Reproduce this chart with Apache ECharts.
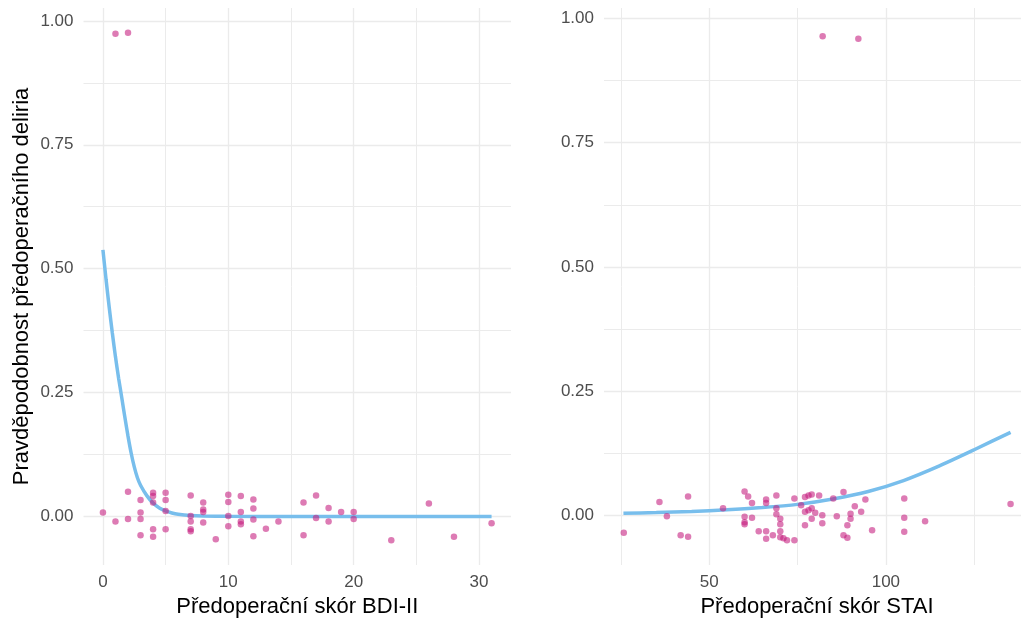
<!DOCTYPE html>
<html>
<head>
<meta charset="utf-8">
<script src="https://cdn.jsdelivr.net/npm/echarts@6/dist/echarts.min.js"></script>
<style>
  html, body { margin: 0; padding: 0; background: #fff; }
  #chart { width: 1021px; height: 622px; }
</style>
</head>
<body>
<div id="chart"></div>
<script>
// BDI-II panel: jittered observations (x = score, y = delirium 0/1 with jitter)
const bdiX = [0, 1, 2, 2, 3, 3, 3, 3, 4, 4, 4, 4, 4, 5, 5, 5, 5, 7, 7, 7, 7, 7,
  8, 8, 8, 8, 9, 10, 10, 10, 10, 11, 11, 11, 11, 12, 12, 12, 12, 13, 14, 16, 16,
  17, 17, 18, 18, 19, 20, 20, 23, 26, 28, 31, 1, 2];
const bdiY = [0.008, -0.010, 0.050, -0.005, 0.033, 0.008, -0.005, -0.038, 0.048,
  0.041, 0.028, -0.026, -0.041, 0.048, 0.033, 0.011, -0.026, 0.042, 0.001, -0.010,
  -0.026, -0.030, 0.028, 0.014, 0.009, -0.012, -0.046, 0.044, 0.029, 0.001, -0.020,
  0.041, 0.009, -0.010, -0.016, 0.034, 0.016, -0.006, -0.040, -0.025, -0.010, 0.028,
  -0.038, 0.042, -0.003, 0.017, -0.010, 0.009, 0.009, -0.005, -0.048, 0.026, -0.041,
  -0.014, 0.974, 0.976];
// fitted probability curve
const bdiCurveX = [0, 0.25, 0.5, 0.75, 1, 1.25, 1.5, 1.75, 2, 2.25, 2.5, 2.75, 3,
  3.5, 4, 4.5, 5, 5.5, 6, 7, 8, 10, 15, 20, 25, 31];
const bdiCurveY = [0.538, 0.478, 0.422, 0.37, 0.322, 0.279, 0.24, 0.2, 0.162,
  0.128, 0.1, 0.078, 0.063, 0.042, 0.027, 0.017, 0.011, 0.007, 0.0045, 0.002,
  0.001, 0.0003, 0, 0, 0, 0];

// STAI panel
const staiX = [25.8, 35.9, 38.0, 41.9, 44.0, 44.0, 53.9, 60.0, 61.0, 60.0, 60.0,
  60.0, 62.1, 62.1, 64.0, 66.1, 66.1, 66.1, 66.1, 68.0, 69.0, 69.0, 69.0, 70.1,
  70.1, 70.1, 70.1, 71.0, 72.0, 74.1, 74.1, 76.0, 77.1, 77.1, 77.1, 78.1, 78.1,
  79.0, 79.0, 79.0, 80.0, 81.1, 82.0, 82.0, 85.1, 86.1, 88.0, 88.0, 89.1, 89.1,
  90.0, 90.0, 91.2, 93.0, 94.2, 96.1, 105.2, 105.2, 105.2, 111.1, 135.3, 82.1, 92.2];
const staiY = [-0.035, 0.027, -0.002, -0.040, 0.038, -0.043, 0.014, 0.048, 0.038,
  -0.003, -0.014, -0.018, 0.025, -0.005, -0.032, 0.032, 0.025, -0.032, -0.047,
  -0.040, 0.040, 0.014, 0.002, -0.007, -0.018, -0.032, -0.044, -0.046, -0.050,
  0.034, -0.050, 0.020, 0.037, 0.007, -0.020, 0.040, 0.010, 0.042, 0.014, -0.007,
  0.005, 0.040, 0.000, -0.016, 0.034, -0.002, 0.047, -0.040, -0.045, -0.020, -0.007,
  0.003, 0.018, 0.007, 0.032, -0.030, 0.034, -0.005, -0.033, -0.012, 0.023, 0.964, 0.959];
const staiCurveX = [25.7, 35, 45, 55, 65, 75, 85, 95, 105, 115, 125, 135.3];
const staiCurveY = [0.004, 0.0055, 0.0078, 0.011, 0.0155, 0.022, 0.033, 0.048,
  0.07, 0.099, 0.132, 0.167];

// tick labels
const bdiTicks = [0, 10, 20, 30];
const bdiMinor = [5, 15, 25];
const staiTicks = [50, 100];
const staiMinor = [25, 75, 125];
const probTicks = [0, 0.25, 0.5, 0.75, 1];
const probMinor = [0.125, 0.375, 0.625, 0.875];

const pairs = (xs, ys) => xs.map((x, i) => [x, ys[i]]);

const FONT = "Liberation Sans";
const gridColor = "#EBEBEB";

function majorAxis(gridIndex, min, max, ticks, isY, fmt, name) {
  return {
    type: "value",
    gridIndex: gridIndex,
    min: min,
    max: max,
    axisLine: { show: false },
    axisTick: { show: false, customValues: ticks },
    axisLabel: {
      customValues: ticks,
      color: "#4D4D4D",
      fontSize: 17,
      fontFamily: FONT,
      margin: isY ? 10 : 9,
      formatter: fmt,
    },
    splitLine: { show: true, lineStyle: { color: gridColor, width: 1.3 } },
    name: name || "",
    nameLocation: "middle",
    nameGap: isY ? 51 : 31,
    nameMoveOverlap: false,
    nameTextStyle: { color: "#000", fontSize: 22, fontFamily: FONT },
  };
}

function minorAxis(gridIndex, min, max, ticks) {
  return {
    type: "value",
    gridIndex: gridIndex,
    min: min,
    max: max,
    axisLine: { show: false },
    axisTick: { show: false, customValues: ticks },
    axisLabel: { show: false },
    splitLine: { show: true, lineStyle: { color: gridColor, width: 1 } },
  };
}

const yFmt = (v) => v.toFixed(2);
const xFmt = (v) => String(v);

function curve(xi, yi, xs, ys) {
  return {
    type: "line",
    xAxisIndex: xi,
    yAxisIndex: yi,
    data: pairs(xs, ys),
    smooth: 0.2,
    showSymbol: false,
    lineStyle: { color: "#78BEEC", width: 3.5 },
    z: 2,
  };
}

function dots(xi, yi, xs, ys) {
  return {
    type: "scatter",
    xAxisIndex: xi,
    yAxisIndex: yi,
    data: pairs(xs, ys),
    symbolSize: 6.5,
    itemStyle: { color: "#C51B7D", opacity: 0.58 },
    z: 3,
  };
}

const chart = echarts.init(document.getElementById("chart"), null, { renderer: "canvas" });
chart.setOption({
  animation: false,
  backgroundColor: "#fff",
  grid: [
    { left: 83.5, width: 427.5, top: 8, height: 557, outerBoundsMode: "none" },
    { left: 604, width: 426, top: 8, height: 557, outerBoundsMode: "none" },
  ],
  xAxis: [
    majorAxis(0, -1.55, 32.55, bdiTicks, false, xFmt, "Předoperační skór BDI-II"),
    minorAxis(0, -1.55, 32.55, bdiMinor),
    majorAxis(1, 20.2, 140.8, staiTicks, false, xFmt, "Předoperační skór STAI"),
    minorAxis(1, 20.2, 140.8, staiMinor),
  ],
  yAxis: [
    majorAxis(0, -0.098, 1.026, probTicks, true, yFmt, "Pravděpodobnost předoperačního deliria"),
    minorAxis(0, -0.098, 1.026, probMinor),
    majorAxis(1, -0.1, 1.021, probTicks, true, yFmt),
    minorAxis(1, -0.1, 1.021, probMinor),
  ],
  series: [
    curve(0, 0, bdiCurveX, bdiCurveY),
    dots(0, 0, bdiX, bdiY),
    curve(2, 2, staiCurveX, staiCurveY),
    dots(2, 2, staiX, staiY),
  ],
});
</script>
</body>
</html>
